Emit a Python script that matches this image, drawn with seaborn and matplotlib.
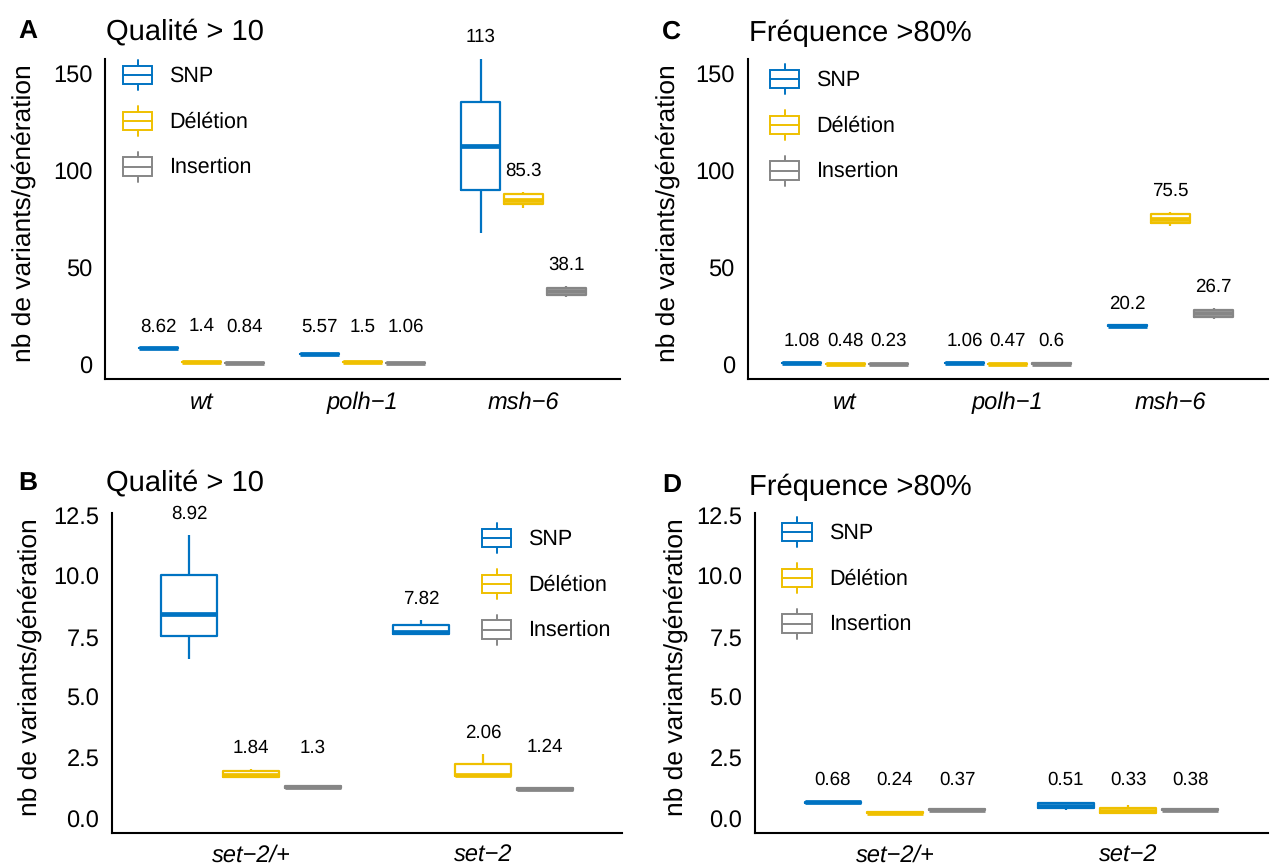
import numpy as np
import pandas as pd
import matplotlib
matplotlib.use("Agg")
import matplotlib.pyplot as plt
import seaborn as sns
from matplotlib.legend_handler import HandlerBase
from matplotlib.patches import Rectangle, Patch
from matplotlib.lines import Line2D

# Variant counts per generation, one value per line, by genotype and variant type

W, H = 1271, 865

TYPES = ["SNP", "Délétion", "Insertion"]
COLORS = ["#0073C2", "#EFC000", "#868686"]

GENO_AC = ["wt", "polh-1", "msh-6"]
GENO_BD = ["set-2/+", "set-2"]

# A - Qualité > 10
A_SNP = [[8.30, 8.50, 8.60, 8.75, 8.90], [5.30, 5.45, 5.55, 5.70, 5.85], [68.0, 90.3, 112.8, 135.7, 158.0]]
A_DEL = [[1.20, 1.30, 1.40, 1.50, 1.60], [1.30, 1.40, 1.50, 1.60, 1.70], [80.9, 82.8, 85.2, 87.9, 89.1]]
A_INS = [[0.70, 0.78, 0.84, 0.90, 0.98], [0.90, 1.00, 1.06, 1.12, 1.20], [34.8, 36.0, 38.0, 39.7, 40.8]]
A_MEAN = [[8.62, 5.57, 113], [1.4, 1.5, 85.3], [0.84, 1.06, 38.1]]

# C - Fréquence >80%
C_SNP = [[0.90, 1.00, 1.08, 1.15, 1.25], [0.90, 1.00, 1.06, 1.12, 1.20], [19.7, 19.9, 20.1, 20.4, 20.6]]
C_DEL = [[0.35, 0.42, 0.48, 0.54, 0.60], [0.35, 0.42, 0.47, 0.52, 0.58], [71.6, 72.9, 75.3, 77.5, 78.8]]
C_INS = [[0.12, 0.18, 0.23, 0.28, 0.33], [0.45, 0.53, 0.60, 0.67, 0.75], [23.7, 24.8, 26.5, 28.3, 29.5]]
C_MEAN = [[1.08, 1.06, 20.2], [0.48, 0.47, 75.5], [0.23, 0.6, 26.7]]

# B - Qualité > 10
B_SNP = [[6.61, 7.53, 8.43, 10.07, 11.70], [7.60, 7.62, 7.70, 7.98, 8.21]]
B_DEL = [[1.70, 1.72, 1.80, 1.96, 2.07], [1.74, 1.75, 1.80, 2.26, 2.67]]
B_INS = [[1.22, 1.26, 1.30, 1.37, 1.40], [1.18, 1.20, 1.24, 1.27, 1.29]]
B_MEAN = [[8.92, 7.82], [1.84, 2.06], [1.3, 1.24]]

# D - Fréquence >80%
D_SNP = [[0.62, 0.65, 0.68, 0.71, 0.74], [0.38, 0.44, 0.52, 0.64, 0.66]]
D_DEL = [[0.20, 0.22, 0.24, 0.26, 0.28], [0.20, 0.22, 0.30, 0.45, 0.55]]
D_INS = [[0.32, 0.35, 0.37, 0.39, 0.41], [0.34, 0.36, 0.38, 0.40, 0.42]]
D_MEAN = [[0.68, 0.51], [0.24, 0.33], [0.37, 0.38]]


def long_df(genos, series):
    rows = []
    for t, per_geno in zip(TYPES, series):
        for g, vals in zip(genos, per_geno):
            for v in vals:
                rows.append((g, t, v))
    return pd.DataFrame(rows, columns=["geno", "type", "value"])


class BoxKey(HandlerBase):
    def create_artists(self, legend, orig_handle, xdescent, ydescent,
                       width, height, fontsize, trans):
        c = orig_handle.get_edgecolor()
        x0, y0 = -xdescent, -ydescent
        lw = 1.4
        bh = height * 0.62
        by = y0 + (height - bh) / 2
        xm = x0 + width / 2
        rect = Rectangle((x0, by), width, bh, facecolor="white", edgecolor=c,
                         lw=lw, transform=trans)
        med = Line2D([x0, x0 + width], [y0 + height / 2] * 2, color=c, lw=lw, transform=trans)
        w1 = Line2D([xm, xm], [y0, by], color=c, lw=lw, transform=trans)
        w2 = Line2D([xm, xm], [by + bh, y0 + height], color=c, lw=lw, transform=trans)
        return [w1, w2, rect, med]


sns.set_theme(style="white")
plt.rcParams["font.family"] = ["Liberation Sans", "DejaVu Sans"]
plt.rcParams.update({"text.color": "black", "axes.labelcolor": "black",
                     "xtick.color": "black", "ytick.color": "black",
                     "text.hinting": "no_hinting"})

fig = plt.figure(figsize=(W / 100, H / 100), dpi=100)
fig.patch.set_facecolor("white")


def px_axes(l, r, t, b):
    return fig.add_axes([l / W, 1 - b / H, (r - l) / W, (b - t) / H])


panels = [
    # letter, title, genos, series, means, box px (l, r, t, b), ylim, yticks, legend px, letter/title pos
    ("A", "Qualité > 10", GENO_AC, [A_SNP, A_DEL, A_INS], A_MEAN,
     (105, 620, 59.3, 379.3), (-7.5, 157.5), [0, 50, 100, 150], "%d",
     (123, 60), (18, 38.5), (106, 40), 24, 4.5),
    ("C", "Fréquence >80%", GENO_AC, [C_SNP, C_DEL, C_INS], C_MEAN,
     (747.5, 1268, 59.3, 379.3), (-7.5, 157.5), [0, 50, 100, 150], "%d",
     (770, 64), (662, 38.5), (749, 40.7), 668, 4.5),
    ("B", "Qualité > 10", GENO_BD, [B_SNP, B_DEL, B_INS], B_MEAN,
     (112, 622, 513.3, 833.3), (-0.6, 12.6), [0, 2.5, 5, 7.5, 10, 12.5], "%.1f",
     (482, 523), (18, 490), (106, 491), 30, 3.5),
    ("D", "Fréquence >80%", GENO_BD, [D_SNP, D_DEL, D_INS], D_MEAN,
     (755, 1268, 513.3, 833.3), (-0.6, 12.6), [0, 2.5, 5, 7.5, 10, 12.5], "%.1f",
     (782.5, 517), (662, 492), (749, 495), 676, 3.5),
]

for (letter, title, genos, series, means, box, ylim, yticks, yfmt,
     leg_xy, letter_xy, title_xy, ylab_x, xpad) in panels:
    l, r, t, b = box
    ax = px_axes(l, r, t, b)
    df = long_df(genos, series)
    sns.boxplot(data=df, x="geno", y="value", hue="type", order=genos,
                hue_order=TYPES, palette=COLORS, fill=False, width=0.8, gap=0.1,
                linewidth=1.6, whis=(0, 100), showcaps=False,
                medianprops={"linewidth": 3.4}, legend=False, ax=ax)
    ax.set_xlim(-0.6, len(genos) - 0.4)
    ax.set_ylim(*ylim)
    ax.set_yticks(yticks)
    ax.yaxis.set_major_formatter(matplotlib.ticker.FormatStrFormatter(yfmt))
    ax.set_xlabel("")
    ax.set_ylabel("")
    for s in ["top", "right"]:
        ax.spines[s].set_visible(False)
    for s in ["left", "bottom"]:
        ax.spines[s].set_linewidth(1.5)
        ax.spines[s].set_color("black")
    ax.tick_params(axis="both", direction="out", length=4.2, width=1.4,
                   color="black", labelsize=17, labelcolor="black")
    ax.tick_params(axis="y", pad=5)
    ax.tick_params(axis="x", pad=xpad)
    ax.set_xticks(range(len(genos)))
    ax.set_xticklabels([g.replace("-", "\u2212") for g in genos], style="italic")

    # mean labels above the boxes; low boxes share a common floor
    tops = [[max(v) for v in per_geno] for per_geno in series]
    data_max = max(max(row) for row in tops)
    limit = max(0.22 * data_max, 0.12 * ylim[1])
    small = [m for row in tops for m in row if m < limit]
    floor = max(small) if small else 0
    step = 0.8 / len(TYPES)
    for i, row in enumerate(tops):
        for j, top in enumerate(row):
            x = j + (i - 1) * step
            y = max(top, floor)
            ax.annotate(f"{means[i][j]:.3g}", (x, y), xytext=(0, 21),
                        textcoords="offset pixels", ha="center", va="center",
                        fontsize=13.5, color="black", annotation_clip=False)

    handles = [Patch(edgecolor=c, facecolor="white", label=tp) for tp, c in zip(TYPES, COLORS)]
    ax.legend(handles=handles, handler_map={Patch: BoxKey()}, loc="upper left",
              bbox_to_anchor=(leg_xy[0] / W, 1 - leg_xy[1] / H),
              bbox_transform=fig.transFigure, frameon=False, fontsize=15.5,
              handlelength=1.35, handleheight=1.75, handletextpad=0.8,
              labelspacing=0.75, borderpad=0, borderaxespad=0)

    fig.text(letter_xy[0] / W, 1 - letter_xy[1] / H, letter, fontsize=19,
             fontweight="bold", va="baseline", ha="left")
    fig.text(title_xy[0] / W, 1 - title_xy[1] / H, title, fontsize=21,
             va="baseline", ha="left")
    fig.text(ylab_x / W, 1 - ((t + b) / 2 - 6) / H, "nb de variants/génération",
             fontsize=19, rotation=90, ha="center", va="center")

fig.savefig("out.png", dpi=100, facecolor="white")
